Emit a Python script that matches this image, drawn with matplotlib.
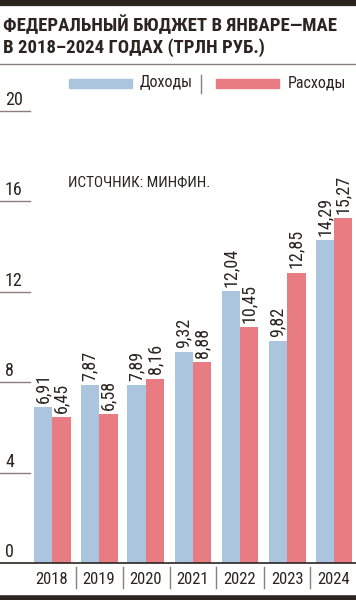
import numpy as np
import matplotlib
matplotlib.use('Agg')
import matplotlib.pyplot as plt
from matplotlib import font_manager

# data
years = ['2018', '2019', '2020', '2021', '2022', '2023', '2024']
income = [6.91, 7.87, 7.89, 9.32, 12.04, 9.82, 14.29]
spend = [6.45, 6.58, 8.16, 8.88, 10.45, 12.85, 15.27]
yticks = [0, 4, 8, 12, 16, 20]

names = {f.name for f in font_manager.fontManager.ttflist}
wanted = ['Roboto Condensed', 'PT Sans Narrow', 'Fira Sans Condensed',
          'Liberation Sans Narrow', 'Liberation Sans']
fams = [f for f in wanted if f in names] + ['DejaVu Sans']
plt.rcParams['font.family'] = fams

ink = '#2b2421'
blue = '#abc5df'
red = '#e97b83'
grey = '#8a8079'

W, H = 356, 600
fig = plt.figure(figsize=(W / 100, H / 100), dpi=100)

def fx(px):
    return px / W

def fy(py):
    return 1 - py / H

# plot area: value 0 at y=563px, value 20 at y=111px
ax = fig.add_axes([0, fy(563), 1, (563 - 111) / H])
ax.set_ylim(0, 20)
ax.set_xlim(-52 / 47, (W - 52) / 47)
ax.axis('off')

x = np.arange(len(years))
bw = 18.5 / 47
ax.bar(x - bw / 2, income, bw, color=blue, zorder=2)
ax.bar(x + bw / 2, spend, bw, color=red, zorder=2)

for xi, a, b in zip(x, income, spend):
    for xx, v in ((xi - bw / 2, a), (xi + bw / 2, b)):
        ax.annotate(f'{v:.2f}'.replace('.', ','), (xx, v), xytext=(0, 3),
                    textcoords='offset points', rotation=90, ha='center',
                    va='bottom', fontsize=13, color=ink)

# y tick marks: short lines with the number sitting on top
ytr = ax.get_yaxis_transform()
for t in yticks:
    if t > 0:
        ax.plot([0, 30 / W], [t, t], transform=ytr, color=grey, lw=1,
                clip_on=False)
    ax.annotate(str(t), (5 / W, t), xycoords=ytr, xytext=(0, 1.5),
                textcoords='offset points', ha='left', va='bottom',
                fontsize=13, color=ink)

# baseline
ax.plot([0, 1], [0, 0], transform=ytr, color=ink, lw=1.2, clip_on=False)

# year labels and separators
for xi, yr in zip(x, years):
    fig.text(ax.transData.transform((xi, 0))[0] / W, fy(579), yr,
             ha='center', va='center', fontsize=12, color=ink)
for xi in x[:-1] + 0.5:
    xp = ax.transData.transform((xi, 0))[0] / W
    fig.add_artist(plt.Line2D([xp, xp], [fy(567), fy(588)], color=grey, lw=1))

# frame lines
fig.add_artist(plt.Line2D([0, 1], [fy(3), fy(3)], color=ink, lw=4.5))
fig.add_artist(plt.Line2D([0, 1], [fy(63.5), fy(63.5)], color=grey, lw=1))
fig.add_artist(plt.Line2D([0, 1], [fy(598), fy(598)], color=ink, lw=4))

# title
fig.text(fx(3), fy(25), 'ФЕДЕРАЛЬНЫЙ БЮДЖЕТ В ЯНВАРЕ—МАЕ', ha='left',
         va='center', fontsize=13.5, fontweight='bold', color=ink)
fig.text(fx(3), fy(48), 'В 2018–2024 ГОДАХ (ТРЛН РУБ.)', ha='left',
         va='center', fontsize=13.5, fontweight='bold', color=ink)

# legend
fig.add_artist(plt.Rectangle((fx(69), fy(88)), fx(63), 9 / H, color=blue))
fig.text(fx(140), fy(83), 'Доходы', ha='left', va='center', fontsize=11.5,
         color=ink)
fig.add_artist(plt.Line2D([fx(201), fx(201)], [fy(75), fy(93)], color=grey,
                          lw=1))
fig.add_artist(plt.Rectangle((fx(216), fy(88)), fx(63), 9 / H, color=red))
fig.text(fx(288), fy(83), 'Расходы', ha='left', va='center', fontsize=11.5,
         color=ink)

# source
fig.text(fx(68), fy(182), 'ИСТОЧНИК: МИНФИН.', ha='left', va='center',
         fontsize=11, color=ink)

fig.savefig('out.png', dpi=100)
